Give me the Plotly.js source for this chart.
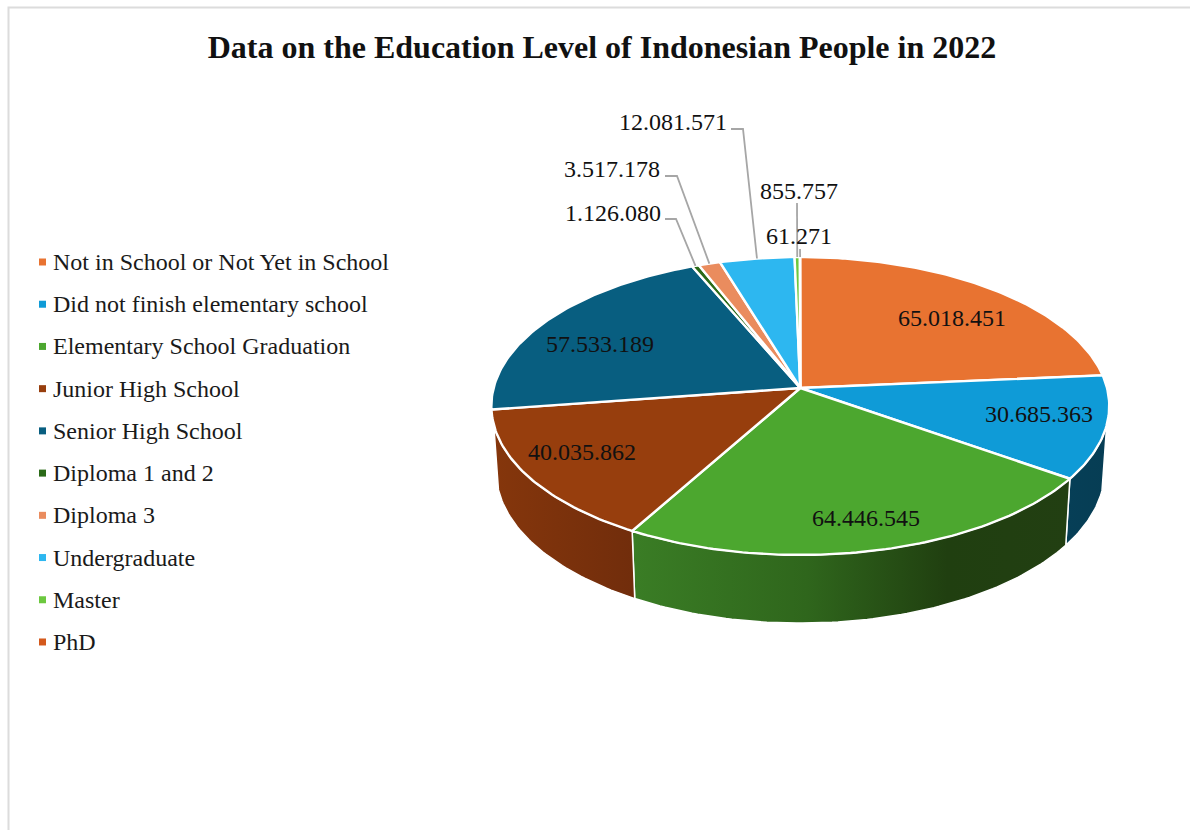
<!DOCTYPE html>
<html>
<head>
<meta charset="utf-8">
<script src="https://cdn.plot.ly/plotly-3.0.1.min.js"></script>
<style>html,body{margin:0;padding:0;background:#fff}#chart{width:1190px;height:830px}</style>
</head>
<body>
<div id="chart"></div>
<script>
// Education level figures, 2022
const categories = ["Not in School or Not Yet in School","Did not finish elementary school","Elementary School Graduation","Junior High School","Senior High School","Diploma 1 and 2","Diploma 3","Undergraduate","Master","PhD"];
const people = [65018451,30685363,64446545,40035862,57533189,1126080,3517178,12081571,855757,61271];
const sliceColors = ["#e87331","#0f9bd7","#4ca72f","#973e0d","#085e80","#2b6a18","#ea8c5e","#2db7f0","#6cc83f","#d4591c"];
const chartTitle = "Data on the Education Level of Indonesian People in 2022";

// Projection of the tilted disc: upper face and lower rim
const upper = {cx:800.3, cy:388, a:306.7, b:146.8, k:0.1208};
const lower = {cx:800.3, cy:452.5, a:302.0, b:150.0, k:0.1208};
function project(plane, deg) {
  const r = deg * Math.PI / 180, u = Math.sin(r), v = -Math.cos(r), w = 1 - plane.k * v;
  return [plane.cx + plane.a * u / w, plane.cy + plane.b * v / w];
}
function arc(plane, from, to) {
  const n = Math.max(2, Math.ceil(Math.abs(to - from))), pts = [];
  for (let i = 0; i <= n; i++) pts.push(project(plane, from + (to - from) * i / n));
  return pts;
}
const total = people.reduce((s, p) => s + p, 0);
const edges = [0];
people.forEach(p => edges.push(edges[edges.length - 1] + p / total * 360));
const midAngle = i => (edges[i] + edges[i + 1]) / 2;

const traces = [];

// Visible side walls, each spanning a slice's arc within the front of the disc
const rimStart = 104.2, rimEnd = 256;
const wallScales = {
  1: [[0,"#063f57"],[1,"#063d54"]],
  2: [[0,"#3a7d25"],[0.4,"#2f661c"],[0.72,"#203f10"],[1,"#223f12"]],
  3: [[0,"#85360c"],[1,"#712d0c"]]
};
Object.keys(wallScales).forEach(key => {
  const i = +key;
  const from = Math.max(edges[i], rimStart), to = Math.min(edges[i + 1], rimEnd);
  const poly = arc(upper, from, to).concat(arc(lower, to, from));
  poly.push(poly[0]);
  traces.push({
    type:"scatter", mode:"lines", x:poly.map(p => p[0]), y:poly.map(p => p[1]),
    fill:"toself", fillgradient:{type:"horizontal", colorscale:wallScales[key]},
    line:{color:"#ffffff", width:1.5}, hoverinfo:"skip", showlegend:false
  });
});

// Upper face wedges
people.forEach((p, i) => {
  const poly = [[upper.cx, upper.cy]].concat(arc(upper, edges[i], edges[i + 1]));
  poly.push([upper.cx, upper.cy]);
  traces.push({
    type:"scatter", mode:"lines", x:poly.map(q => q[0]), y:poly.map(q => q[1]),
    fill:"toself", fillcolor:sliceColors[i], line:{color:"#ffffff", width:2.4},
    name:categories[i], showlegend:false, hoverinfo:"name"
  });
});

// Leader lines for the narrow slices: label elbow, then down to the slice's rim
const leaders = {5:[[665,219],[676,219]], 6:[[665,176],[677,176]], 7:[[731,129],[743,129]], 8:[[797,203]], 9:[[800,249]]};
Object.keys(leaders).forEach(key => {
  const pts = leaders[key].concat([project(upper, midAngle(+key))]);
  traces.push({
    type:"scatter", mode:"lines", x:pts.map(p => p[0]), y:pts.map(p => p[1]),
    line:{color:"#a6a6a6", width:1.8}, hoverinfo:"skip", showlegend:false
  });
});

// Value labels, dot-grouped
const labelX = [952,1039,866,582,600,613,612,673,799,799];
const labelY = [320,416,520,454,346,215,171,124,193,238];
traces.push({
  type:"scatter", mode:"text", x:labelX, y:labelY,
  text:people.map(p => String(p).replace(/\B(?=(\d{3})+$)/g, ".")),
  textposition:"middle center",
  textfont:{family:"Liberation Serif", size:24, color:"#111111"},
  hoverinfo:"skip", showlegend:false
});

// Key: swatch column and label column
const keyTop = 262, keyStep = 42.22;
const keyY = categories.map((c, i) => keyTop + i * keyStep);
traces.push({
  type:"scatter", mode:"markers", x:categories.map(() => 42.5), y:keyY,
  marker:{symbol:"square", size:7, color:sliceColors}, hoverinfo:"skip", showlegend:false
});
traces.push({
  type:"scatter", mode:"text", x:categories.map(() => 53), y:keyY.map(y => y + 2), text:categories,
  textposition:"middle right",
  textfont:{family:"Liberation Serif", size:24, color:"#1a1a1a"},
  hoverinfo:"skip", showlegend:false
});

const layout = {
  width:1190, height:830, margin:{l:0, r:0, t:0, b:0, pad:0},
  paper_bgcolor:"#ffffff", plot_bgcolor:"#ffffff", showlegend:false,
  title:{text:"<b>" + chartTitle + "</b>", x:602 / 1190, xanchor:"center", xref:"paper",
         y:1 - 47 / 830, yanchor:"middle", yref:"container",
         font:{family:"Liberation Serif", size:32, color:"#111111"}},
  xaxis:{range:[0,1190], visible:false, fixedrange:true},
  yaxis:{range:[830,0], visible:false, fixedrange:true},
  shapes:[{type:"path", path:"M 8.5 830 L 8.5 7.5 L 1190 7.5", line:{color:"#dcdcdc", width:2}, layer:"below"}]
};
Plotly.newPlot("chart", traces, layout, {displayModeBar:false, staticPlot:true});
</script>
</body>
</html>
